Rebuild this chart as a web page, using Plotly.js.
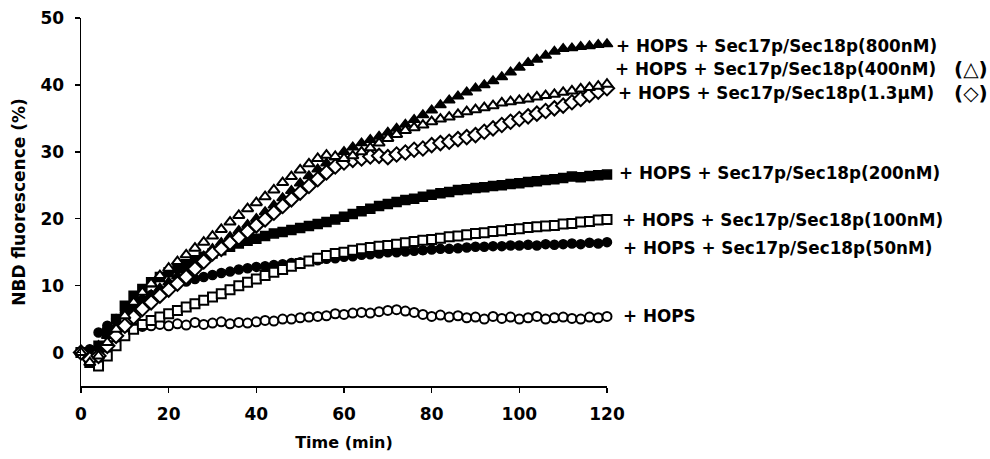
<!DOCTYPE html>
<html>
<head>
<meta charset="utf-8">
<script src="https://cdn.plot.ly/plotly-3.0.1.min.js"></script>
<style>html,body{margin:0;padding:0;background:#fff;}#chart{width:990px;height:459px;}</style>
</head>
<body>
<div id="chart"></div>
<script>
// Time (min)
const time = [0,2,4,6,8,10,12,14,16,18,20,22,24,26,28,30,32,34,36,38,40,42,44,46,48,50,52,54,56,58,60,62,64,66,68,70,72,74,76,78,80,82,84,86,88,90,92,94,96,98,100,102,104,106,108,110,112,114,116,118,120];

// NBD fluorescence (%)
const hops = [0,-1.5,-1.0,1.0,2.5,3.3,3.8,3.9,4.0,4.2, 4.0,4.3,4.1,4.5,4.2,4.4,4.6,4.3,4.5,4.4, 4.6,4.8,4.7,5.0,5.0,5.2,5.3,5.4,5.5,5.8, 5.7,5.9,6.0,5.9,6.1,6.3,6.4,6.2,6.0,5.7, 5.4,5.6,5.3,5.5,5.2,5.3,5.0,5.4,5.1,5.3, 5.0,5.2,5.4,5.0,5.2,5.3,5.1,5.0,5.3,5.2, 5.4];
const s50 = [0,0.5,3.0,4.0,5.0,6.0,7.0,7.9,8.6,9.2, 9.7,10.2,10.6,11.0,11.3,11.6,11.9,12.1,12.4,12.6, 12.8,12.9,13.1,13.2,13.4,13.5,13.7,13.8,14.0,14.1, 14.3,14.4,14.6,14.7,14.8,15.0,15.0,15.1,15.2,15.3, 15.4,15.5,15.5,15.6,15.7,15.8,15.8,15.9,15.9,16.0, 16.0,16.1,16.0,16.2,16.1,16.2,16.3,16.2,16.4,16.3, 16.5];
const s100 = [0,-1.5,-2.0,-0.5,1.0,2.5,3.5,4.2,4.8,5.3, 5.8,6.3,6.8,7.3,7.8,8.3,8.8,9.4,10.0,10.5, 11.0,11.5,12.0,12.4,12.9,13.3,13.7,14.1,14.5,14.8, 15.0,15.3,15.5,15.7,15.9,16.0,16.2,16.4,16.6,16.8, 16.9,17.1,17.3,17.4,17.6,17.8,17.9,18.1,18.2,18.4, 18.5,18.7,18.8,18.9,19.0,19.2,19.3,19.5,19.6,19.8, 19.9];
const s200 = [0,-1.0,1.0,3.0,5.0,7.0,8.5,9.5,10.5,11.3, 12.0,12.6,13.2,13.8,14.3,14.8,15.3,15.8,16.3,16.7, 17.0,17.4,17.8,18.0,18.3,18.6,18.9,19.2,19.5,19.9, 20.3,20.7,21.1,21.5,21.9,22.2,22.5,22.8,23.0,23.3, 23.6,23.8,24.0,24.3,24.4,24.6,24.7,24.9,25.0,25.2, 25.3,25.5,25.6,25.8,25.9,26.1,26.3,26.2,26.4,26.5, 26.6];
const s1300 = [0,-1.0,-0.5,1.0,2.5,4.0,5.3,6.5,7.5,8.5, 9.4,10.3,11.3,12.5,13.6,14.8,15.5,16.4,17.2,18.1, 19.0,19.9,20.9,21.9,22.9,23.9,24.9,25.9,26.9,27.8, 28.4,28.8,29.0,29.3,29.4,29.2,29.6,29.9,30.3,30.5, 31.0,31.3,31.5,31.9,32.2,32.5,33.0,33.5,34.0,34.5, 34.9,35.3,35.7,36.1,36.5,36.9,37.4,37.9,38.5,39.0, 39.5];
const s400 = [0,-1.5,-0.5,1.5,3.5,5.5,7.5,9.0,10.3,11.5, 12.6,13.6,14.6,15.6,16.5,17.4,18.4,19.5,20.5,21.5, 22.4,23.3,24.3,25.4,26.3,27.3,28.2,29.0,29.5,29.3, 29.0,29.4,30.0,30.6,31.3,32.0,32.6,33.2,33.6,34.0, 34.5,34.9,35.2,35.6,36.0,36.3,36.6,36.9,37.3,37.5, 37.7,37.9,38.2,38.4,38.6,38.9,39.1,39.4,39.6,39.8, 40.1];
const s800 = [0,-1.0,1.0,2.5,4.0,5.5,6.5,7.6,8.6,9.6, 10.5,11.4,12.3,13.3,14.4,15.5,16.4,17.3,18.2,19.1, 20.0,21.0,22.0,23.1,24.2,25.3,26.4,27.4,28.3,29.2, 30.0,30.7,31.3,31.8,32.3,32.9,33.5,34.1,34.8,35.5, 36.2,37.0,37.7,38.3,38.9,39.5,40.0,40.6,41.2,41.9, 42.6,43.3,43.8,44.4,45.0,45.4,45.5,45.7,45.8,46.0, 46.1];

// Curve labels: text, y value, and left pixel of each label
const labelTexts = ["+ HOPS + Sec17p/Sec18p(800nM)", "+ HOPS + Sec17p/Sec18p(400nM)", "+ HOPS + Sec17p/Sec18p(1.3\u03bcM)", "+ HOPS + Sec17p/Sec18p(200nM)", "+ HOPS + Sec17p/Sec18p(100nM)", "+ HOPS + Sec17p/Sec18p(50nM)", "+ HOPS"];
const labelY = [45.8, 42.4, 38.8, 26.8, 19.8, 15.7, 5.5];
const labelPx = [614, 613, 616, 617, 620, 621, 621];
const symbolNotes = ["(\u25b3)", "(\u25c7)"];
const symbolNoteY = [42.4, 38.8];

const FONT = "DejaVu Sans, Arial, sans-serif";
const PLOT_L = 81, PLOT_W = 526;

function openTrace(y, symbol, size) {
  return {x: time, y: y, type: 'scatter', mode: 'markers', cliponaxis: false,
    marker: {symbol: symbol, size: size, color: '#ffffff', line: {color: '#000000', width: 2}}};
}
function filledTrace(y, symbol, size) {
  return {x: time, y: y, type: 'scatter', mode: 'markers', cliponaxis: false,
    marker: {symbol: symbol, size: size, color: '#000000', line: {color: '#000000', width: 1.5}}};
}

const data = [
  openTrace(hops, 'circle', 9),
  filledTrace(s50, 'circle', 9),
  openTrace(s100, 'square', 9),
  filledTrace(s200, 'square', 9),
  filledTrace(s800, 'triangle-up', 10),
  openTrace(s1300, 'diamond', 11),
  openTrace(s400, 'triangle-up', 10)
];

const annotations = [];
for (let i = 0; i < labelTexts.length; i++) {
  annotations.push({x: (labelPx[i] - PLOT_L) / PLOT_W, y: labelY[i], xref: 'paper', yref: 'y', text: labelTexts[i],
    showarrow: false, xanchor: 'left', yanchor: 'middle',
    font: {family: FONT, size: 16.8, color: '#000', weight: 'bold'}});
}
for (let i = 0; i < symbolNotes.length; i++) {
  annotations.push({x: (990 - PLOT_L) / PLOT_W, y: symbolNoteY[i], xref: 'paper', yref: 'y', text: symbolNotes[i],
    showarrow: false, xanchor: 'right', yanchor: 'middle',
    font: {family: FONT, size: 20, color: '#000', weight: 'bold'}});
}

const layout = {
  width: 990, height: 459,
  margin: {l: 81, r: 383, t: 18, b: 73, pad: 0},
  paper_bgcolor: '#fff', plot_bgcolor: '#fff',
  showlegend: false,
  font: {family: FONT, color: '#000'},
  xaxis: {
    range: [0, 120], tickvals: [0,20,40,60,80,100,120], ticktext: ['0','20','40','60','80','100','120'],
    showgrid: false, zeroline: false, showline: true, linecolor: '#000', linewidth: 1.5,
    ticks: 'outside', ticklen: 5, tickwidth: 1.5, tickcolor: '#000', ticklabelstandoff: 7,
    tickfont: {family: FONT, size: 17, color: '#000', weight: 'bold'},
    title: {text: 'Time (min)', font: {family: FONT, size: 16, color: '#000', weight: 'bold'}, standoff: 14}
  },
  yaxis: {
    range: [-5, 50], tickvals: [0,10,20,30,40,50], ticktext: ['0','10','20','30','40','50'],
    showgrid: false, zeroline: false, showline: true, linecolor: '#000', linewidth: 1.5,
    ticks: 'outside', ticklen: 5, tickwidth: 1.5, tickcolor: '#000', ticklabelstandoff: 7,
    tickfont: {family: FONT, size: 17, color: '#000', weight: 'bold'},
    title: {text: 'NBD fluorescence (%)', font: {family: FONT, size: 17, color: '#000', weight: 'bold'}, standoff: 10}
  },
  annotations: annotations
};

Plotly.newPlot('chart', data, layout, {displayModeBar: false, staticPlot: true});
</script>
</body>
</html>
